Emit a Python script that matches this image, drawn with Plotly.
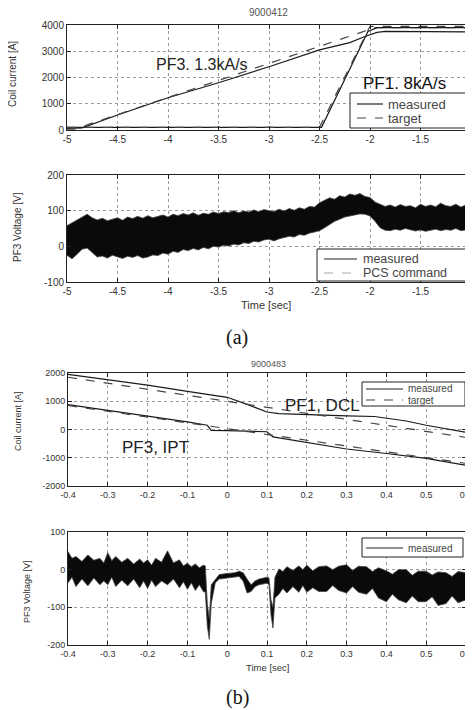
import plotly.graph_objects as go

# ---------------- data ----------------
# Panel (a) top: coil currents, shot 9000412
t_pf3_meas = [-5.0, -4.85, -4.5, -4.0, -3.5, -3.0, -2.5, -2.2, -2.05, -1.93, -1.85, -1.0]
pf3_meas = [60, 80, 570, 1230, 1800, 2410, 3050, 3330, 3560, 3720, 3760, 3740]
t_pf3_tgt = [-5.0, -4.93, -1.95, -1.0]
pf3_tgt = [30, 30, 3900, 3900]
t_pf1_meas = [-5.0, -2.48, -2.02, -1.93, -1.0]
pf1_meas = [100, 100, 3750, 3900, 3900]
t_pf1_tgt = [-5.0, -2.5, -2.0, -1.0]
pf1_tgt = [100, 100, 3950, 3950]

# Panel (a) bottom: PF3 voltage envelope (upper / lower edge of the noisy trace)
t_va = [-5.0, -4.95, -4.9, -4.85, -4.8, -4.75, -4.7, -4.65, -4.6, -4.55, -4.5, -4.45, -4.4,
        -4.35, -4.3, -4.25, -4.2, -4.15, -4.1, -4.05, -4.0, -3.95, -3.9, -3.85, -3.8, -3.75,
        -3.7, -3.65, -3.6, -3.55, -3.5, -3.45, -3.4, -3.35, -3.3, -3.25, -3.2, -3.15, -3.1,
        -3.05, -3.0, -2.95, -2.9, -2.85, -2.8, -2.75, -2.7, -2.65, -2.6, -2.55, -2.5, -2.45,
        -2.4, -2.35, -2.3, -2.25, -2.2, -2.15, -2.1, -2.05, -2.0, -1.95, -1.9, -1.85, -1.8,
        -1.75, -1.7, -1.65, -1.6, -1.55, -1.5, -1.45, -1.4, -1.35, -1.3, -1.25, -1.2, -1.15,
        -1.1, -1.05, -1.0]
va_upper = [58, 66, 75, 84, 90, 80, 74, 79, 72, 76, 80, 73, 82,
            78, 84, 79, 86, 80, 85, 88, 82, 90, 86, 92, 88, 94,
            87, 93, 90, 96, 92, 97, 95, 100, 94, 99, 96, 102, 97,
            103, 100, 98, 104, 99, 106, 101, 108, 104, 112, 110, 122, 128,
            136, 132, 142, 138, 147, 143, 148, 140, 137, 124, 118, 112, 116,
            110, 117, 112, 114, 108, 118, 112, 116, 111, 121, 114, 112, 118,
            110, 116, 118]
va_lower = [-25, -35, -22, -8, -5, -18, -30, -27, -33, -25, -30, -34, -28,
            -31, -26, -33, -30, -24, -26, -19, -22, -14, -17, -9, -12, -6,
            -10, -3, -7, 0, -2, 3, 1, 6, 4, 10, 8, 14, 12,
            18, 20, 15, 21, 24, 28, 26, 33, 31, 37, 40, 44, 52,
            62, 70, 76, 82, 85, 88, 91, 90, 85, 70, 52, 45, 44,
            48, 45, 50, 47, 43, 46, 42, 45, 48, 44, 47, 45, 50,
            44, 47, 48]

# Panel (b) top: coil currents, shot 9000483
t_b_pf1_meas = [-0.4, -0.3, -0.2, -0.1, 0.0, 0.05, 0.1, 0.13, 0.2, 0.3, 0.37, 0.45, 0.5, 0.55, 0.6]
b_pf1_meas = [1950, 1760, 1570, 1350, 1140, 890, 620, 560, 520, 480, 460, 300, 150, 30, -100]
t_b_pf1_tgt = [-0.4, 0.6]
b_pf1_tgt = [1850, -280]
t_b_pf3_meas = [-0.4, -0.3, -0.2, -0.1, -0.05, -0.04, 0.0, 0.05, 0.1, 0.115, 0.2, 0.3, 0.4, 0.5, 0.6]
b_pf3_meas = [880, 680, 480, 270, 150, -30, -40, -60, -80, -260, -450, -690, -850, -1020, -1270]
t_b_pf3_tgt = [-0.4, 0.6]
b_pf3_tgt = [850, -1200]

# Panel (b) bottom: PF3 voltage envelope
t_vb = [-0.4, -0.39, -0.38, -0.365, -0.35, -0.335, -0.32, -0.31, -0.3, -0.29, -0.28, -0.265,
        -0.25, -0.235, -0.22, -0.21, -0.2, -0.19, -0.18, -0.165, -0.15, -0.135, -0.12, -0.11,
        -0.1, -0.09, -0.08, -0.07, -0.06, -0.055, -0.05, -0.045, -0.04, -0.03, -0.02, 0.0,
        0.02, 0.03, 0.04, 0.05, 0.06, 0.07, 0.08, 0.1, 0.105, 0.11, 0.115, 0.12, 0.13,
        0.14, 0.15, 0.165, 0.18, 0.19, 0.2, 0.215, 0.23, 0.25, 0.265, 0.28, 0.3, 0.315,
        0.33, 0.35, 0.365, 0.38, 0.4, 0.415, 0.43, 0.45, 0.465, 0.48, 0.5, 0.515, 0.53,
        0.55, 0.565, 0.58, 0.6]
vb_upper = [48, 30, 35, 22, 39, 25, 30, 18, 45, 24, 35, 20,
            30, 15, 28, 18, 26, 12, 30, 20, 50, 18, 26, 10,
            17, 8, 15, 5, 12, 10, -90, -130, -40, -25, -13, -10,
            -8, -4, -8, -25, -40, -30, -25, -20, -22, -80, -100, -20, 2,
            -5, 8, -2, 10, 0, 12, -3, 8, 10, 0, 9, 13, -2,
            9, 8, -5, 5, -3, -12, 0, 0, -15, -4, -4, -14, -6,
            -8, -18, -5, -8]
vb_lower = [-35, -20, -45, -25, -43, -22, -40, -30, -40, -20, -45, -28,
            -43, -25, -48, -30, -50, -28, -45, -30, -40, -25, -48, -32,
            -52, -35, -55, -40, -58, -60, -150, -185, -90, -35, -25, -22,
            -20, -18, -30, -62, -58, -45, -40, -36, -40, -120, -155, -75, -65,
            -50, -62, -45, -60, -42, -60, -48, -58, -58, -42, -55, -62, -45,
            -60, -65, -50, -75, -85, -65, -80, -88, -70, -85, -85, -72, -95,
            -90, -70, -88, -80]

# tick labels
xa_ticks = [-5, -4.5, -4, -3.5, -3, -2.5, -2, -1.5, -1]
xa_text = ["-5", "-4.5", "-4", "-3.5", "-3", "-2.5", "-2", "-1.5", "-1"]
ya1_ticks = [0, 1000, 2000, 3000, 4000]
ya1_text = ["0", "1000", "2000", "3000", "4000"]
ya2_ticks = [-100, 0, 100, 200]
ya2_text = ["-100", "0", "100", "200"]
xb_ticks = [-0.4, -0.3, -0.2, -0.1, 0, 0.1, 0.2, 0.3, 0.4, 0.5, 0.6]
xb_text = ["-0.4", "-0.3", "-0.2", "-0.1", "0", "0.1", "0.2", "0.3", "0.4", "0.5", "0.6"]
yb1_ticks = [-2000, -1000, 0, 1000, 2000]
yb1_text = ["-2000", "-1000", "0", "1000", "2000"]
yb2_ticks = [-200, -100, 0, 100]
yb2_text = ["-200", "-100", "0", "100"]

# legend entries per panel
leg_a1 = ["measured", "target"]
leg_a2 = ["measured", "PCS command"]
leg_b1 = ["measured", "target"]
leg_b2 = ["measured"]

# ---------------- figure ----------------
W, H = 473, 710
OFF = 8  # page body margin of the browser
LC = "#1a1a1a"
FONT = "Liberation Sans, Arial, sans-serif"

fig = go.Figure()

def line(x, y, xa, ya, dash="solid", color=LC, width=1.2):
    fig.add_trace(go.Scatter(x=x, y=y, mode="lines", xaxis=xa, yaxis=ya,
                             line=dict(color=color, width=width, dash=dash),
                             showlegend=False, hoverinfo="skip"))

def band(x, up, lo, xa, ya):
    fig.add_trace(go.Scatter(x=x, y=up, mode="lines", xaxis=xa, yaxis=ya,
                             line=dict(color="#444", width=0.8), showlegend=False, hoverinfo="skip"))
    fig.add_trace(go.Scatter(x=x, y=lo, mode="lines", xaxis=xa, yaxis=ya, fill="tonexty",
                             fillcolor="#0a0a0a", line=dict(color="#444", width=0.8),
                             showlegend=False, hoverinfo="skip"))

line(t_pf3_meas, pf3_meas, "x", "y")
line(t_pf3_tgt, pf3_tgt, "x", "y", dash="dash", color="#444")
line(t_pf1_meas, pf1_meas, "x", "y")
line(t_pf1_tgt, pf1_tgt, "x", "y", dash="dash", color="#444")

band(t_va, va_upper, va_lower, "x2", "y2")

line(t_b_pf1_meas, b_pf1_meas, "x3", "y3")
line(t_b_pf1_tgt, b_pf1_tgt, "x3", "y3", dash="dash", color="#444")
line(t_b_pf3_meas, b_pf3_meas, "x3", "y3")
line(t_b_pf3_tgt, b_pf3_tgt, "x3", "y3", dash="dash", color="#444")

band(t_vb, vb_upper, vb_lower, "x4", "y4")

def px_x(p):
    return (p - OFF) / W

def px_y(p):
    return 1 - (p - OFF) / H

def ax(domain, rng, tv, tt, anchor, fs=10):
    return dict(domain=domain, range=rng, tickvals=tv, ticktext=tt, anchor=anchor,
                showgrid=True, gridcolor="#9a9a9a", griddash="dot", gridwidth=1,
                zeroline=False, showline=True, linecolor="#222", linewidth=1,
                mirror="ticks", ticks="inside", ticklen=4, tickcolor="#222",
                automargin=False,
                tickfont=dict(family=FONT, size=fs, color="#333"))

xa_dom = [px_x(67), px_x(471)]
xb_dom = [px_x(68), px_x(466)]

fig.update_layout(
    template="none",
    width=W, height=H, margin=dict(l=0, r=0, t=0, b=0, pad=0, autoexpand=False),
    paper_bgcolor="white", plot_bgcolor="white", showlegend=False,
    xaxis=ax(xa_dom, [-5, -1], xa_ticks, xa_text, "y"),
    yaxis=ax([px_y(130), px_y(25)], [0, 4000], ya1_ticks, ya1_text, "x"),
    xaxis2=ax(xa_dom, [-5, -1], xa_ticks, xa_text, "y2"),
    yaxis2=ax([px_y(282), px_y(175)], [-100, 200], ya2_ticks, ya2_text, "x2"),
    xaxis3=ax(xb_dom, [-0.4, 0.6], xb_ticks, xb_text, "y3", fs=9),
    yaxis3=ax([px_y(486), px_y(373)], [-2000, 2000], yb1_ticks, yb1_text, "x3", fs=9),
    xaxis4=ax(xb_dom, [-0.4, 0.6], xb_ticks, xb_text, "y4", fs=9),
    yaxis4=ax([px_y(645), px_y(532)], [-200, 100], yb2_ticks, yb2_text, "x4", fs=9),
)

ann = []
shapes = []

def txt(text, x, y, size, xref="paper", yref="paper", angle=0, color="#333",
        family=FONT, xanchor="center", yanchor="middle"):
    ann.append(dict(text=text, x=x, y=y, xref=xref, yref=yref, showarrow=False,
                    textangle=angle, font=dict(family=family, size=size, color=color),
                    xanchor=xanchor, yanchor=yanchor))

def legend_box(x0, y0, x1, y1, names, rows_y, sx0, sx1, tx, fs, styles):
    shapes.append(dict(type="rect", xref="paper", yref="paper",
                       x0=px_x(x0), x1=px_x(x1), y0=px_y(y1), y1=px_y(y0),
                       line=dict(color="#222", width=1), fillcolor="white", layer="above"))
    for name, ry, (dash, col) in zip(names, rows_y, styles):
        shapes.append(dict(type="line", xref="paper", yref="paper",
                           x0=px_x(sx0), x1=px_x(sx1), y0=px_y(ry), y1=px_y(ry),
                           line=dict(color=col, width=1.2, dash=dash), layer="above"))
        txt(name, px_x(tx), px_y(ry), fs, color="#444", xanchor="left")

solid = ("solid", "#222")
dashed = ("dash", "#444")
pcs = ("dash", "#aaa")

legend_box(350, 93, 466, 128, leg_a1, [104, 118], 357, 383, 386, 13, [solid, dashed])
legend_box(317, 249, 470, 281, leg_a2, [259, 273], 324, 357, 361, 12.5, [solid, pcs])
legend_box(362, 382, 465, 406, leg_b1, [389, 400], 366, 403, 406, 10, [solid, dashed])
legend_box(362, 538, 463, 557, leg_b2, [548], 366, 403, 406, 10, [solid])

txt("9000412", px_x(268), px_y(13), 10, color="#555")
txt("9000483", px_x(268), px_y(364), 9, color="#555")
txt("Coil current [A]", px_x(13), px_y(74), 10, angle=-90)
txt("PF3 Voltage [V]", px_x(17), px_y(227), 10, angle=-90)
txt("Coil current [A]", px_x(18), px_y(421), 9, angle=-90)
txt("PF3 Voltage [V]", px_x(27), px_y(592), 9, angle=-90)
txt("Time [sec]", px_x(266), px_y(305), 11)
txt("Time [sec]", px_x(267), px_y(667), 9.5)
txt("(a)", px_x(237), px_y(337), 20, family="Liberation Serif, Times New Roman, serif", color="#111")
txt("(b)", px_x(237), px_y(697), 20, family="Liberation Serif, Times New Roman, serif", color="#111")
txt("PF3. 1.3kA/s", -3.66, 2480, 16, xref="x", yref="y", color="#222")
txt("PF1. 8kA/s", -1.66, 1790, 17, xref="x", yref="y", color="#111")
txt("PF1, DCL", 0.14, 850, 17, xref="x3", yref="y3", color="#222", xanchor="left")
txt("PF3, IPT", -0.18, -636, 17, xref="x3", yref="y3", color="#222")
fig.update_layout(annotations=ann, shapes=shapes)

fig.write_html("out.html")
